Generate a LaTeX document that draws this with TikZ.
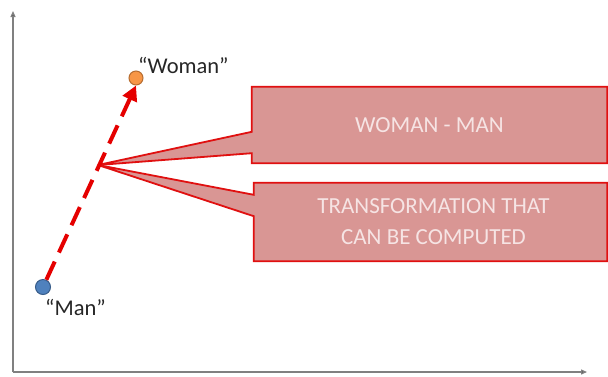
\documentclass[tikz,border=0pt]{standalone}
\usepackage{fontspec}
\setmainfont{Carlito}
\usetikzlibrary{arrows.meta,calc}
\definecolor{boxfill}{HTML}{D99694}
\definecolor{boxline}{HTML}{E01010}
\definecolor{boxtext}{HTML}{F6E4E4}
\definecolor{manfill}{HTML}{4F81BD}
\definecolor{manline}{HTML}{385D8A}
\definecolor{womfill}{HTML}{F79646}
\definecolor{womline}{HTML}{B66D31}
\definecolor{axisgray}{HTML}{808080}
\definecolor{labeltext}{HTML}{262626}
\tikzset{
  axisline/.style={draw=axisgray, line width=1.3pt, -{Triangle[length=6pt,width=5pt,fill=black]}},
  callout/.style={fill=boxfill, draw=boxline, line width=1.8pt, line join=miter},
  boxlabel/.style={text=boxtext, font=\fontsize{23}{31}\selectfont, align=center},
  dot/.style={circle, inner sep=0pt, line width=1pt},
  ptlabel/.style={text=labeltext, font=\fontsize{22.5}{24}\selectfont, inner sep=0pt},
  vecline/.style={draw=red!90!black, line width=4pt, dash pattern=on 20pt off 10pt,
    -{Triangle[length=15pt,width=15pt]}}
}
\begin{document}
\begin{tikzpicture}[x=1pt,y=-1pt]
\useasboundingbox (0,0) rectangle (608,376);
% axes
\coordinate (origin) at (13,372);
\coordinate (ytop) at (13,11);
\coordinate (xend) at (587,372);
\draw[axisline] (origin) -- (ytop);
\draw[axisline] (origin) -- (xend);
% points
\node[dot, fill=manfill, draw=manline, minimum size=15pt] (man) at (43,287) {};
\node[dot, fill=womfill, draw=womline, minimum size=14pt] (woman) at (136,78) {};
\node[ptlabel, anchor=base west] (manlab) at (45,315) {“Man”};
\node[ptlabel, anchor=base west] (womlab) at (138,73) {“Woman”};
% callout tip
\coordinate (tip) at (98,165);
% boxes
\node[minimum width=355pt, minimum height=76pt, inner sep=0pt] (b1) at (429.5,125) {};
\node[minimum width=353pt, minimum height=78pt, inner sep=0pt] (b2) at (430.5,222) {};
\path[callout] (b1.north west) -- (b1.north east) -- (b1.south east) -- (b1.south west)
  -- ([yshift=10pt]b1.south west) -- (tip) -- ([yshift=-45pt]b1.north west) -- cycle;
\path[callout] (b2.north west) -- (b2.north east) -- (b2.south east) -- (b2.south west)
  -- ([yshift=45pt]b2.south west) -- (tip) -- ([yshift=-12pt]b2.north west) -- cycle;
\node[boxlabel] (t1) at (b1.center) {WOMAN - MAN};
\node[boxlabel] (t2) at ([xshift=3pt]b2.center) {TRANSFORMATION THAT\\CAN BE COMPUTED};
% vector
\draw[vecline] (man) -- (woman.south);
\end{tikzpicture}
\end{document}
